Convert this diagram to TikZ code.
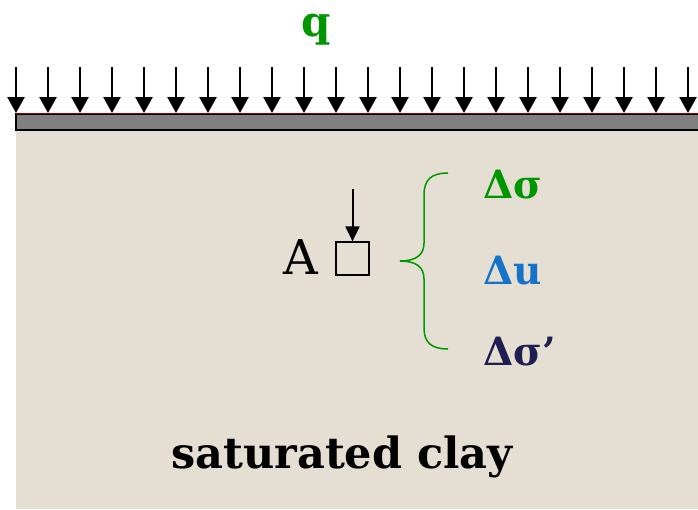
\documentclass[tikz,border=0pt]{standalone}
\usepackage{fontspec}
\setmainfont{DejaVu Serif}
\usetikzlibrary{arrows.meta,positioning}
\definecolor{claybg}{RGB}{229,223,211}
\definecolor{plategray}{RGB}{128,128,128}
\definecolor{qgreen}{RGB}{0,150,0}
\definecolor{ublue}{RGB}{20,115,200}
\definecolor{effnavy}{RGB}{30,30,80}
\tikzset{
  loadarrow/.style={-{Triangle[length=16pt,width=17pt]}, line width=2.5pt},
  plate/.style={fill=plategray, draw=black, line width=1.5pt},
  clay/.style={fill=claybg, draw=none},
  bigtxt/.style={inner sep=0pt, anchor=base west, font=\fontsize{39}{44}\selectfont\bfseries},
  brace/.style={draw=qgreen, line width=1.5pt}
}
\begin{document}
\begin{tikzpicture}[x=1pt,y=-1pt]
\useasboundingbox (0,0) rectangle (698,509);

% ---------- soil and footing ----------
\fill[clay] (16,131) rectangle (698,509);
\draw[plate] (16,114) rectangle (702,130);
\draw[red!60!black, line width=0.8pt] (16,113) -- (698,113);

% ---------- distributed load ----------
\node[inner sep=0pt, anchor=base, text=qgreen,
      font=\fontsize{42}{48}\selectfont\bfseries] (q) at (316,36) {q};
\foreach \i in {0,...,21}{
  \coordinate (top\i) at (16+32*\i,67);
  \coordinate (bot\i) at (16+32*\i,113);
  \draw[loadarrow] (top\i) -- (bot\i);
}

% ---------- element A ----------
\node[inner sep=0pt, anchor=base west,
      font=\fontsize{48}{54}\selectfont] (lblA) at (283,274) {A};
\node[draw, line width=1.2pt, minimum size=33pt, inner sep=0pt] (elem) at (352.5,258.5) {};
\coordinate (elemtop) at (352.5,189);
\draw[-{Triangle[length=15pt,width=14pt]}, line width=2pt] (elemtop) -- (elem.north);

% ---------- brace and stresses ----------
\draw[brace] (448,173) .. controls (431,173) and (424,180) .. (424,195)
  -- (424,243) .. controls (424,255) and (416,261) .. (400,261)
  .. controls (416,261) and (424,267) .. (424,279)
  -- (424,328) .. controls (424,342) and (431,349) .. (448,349);
\node[bigtxt, text=qgreen] (dsig) at (483,198) {Δσ};
\node[bigtxt, text=ublue] (du) at (483,284) {Δu};
\node[bigtxt, text=effnavy] (dsigeff) at (483,365) {Δσ’};

% ---------- label ----------
\node[inner sep=0pt, anchor=base, font=\fontsize{43}{48}\selectfont\bfseries]
  (soil) at (342,468) {saturated clay};

\end{tikzpicture}
\end{document}
